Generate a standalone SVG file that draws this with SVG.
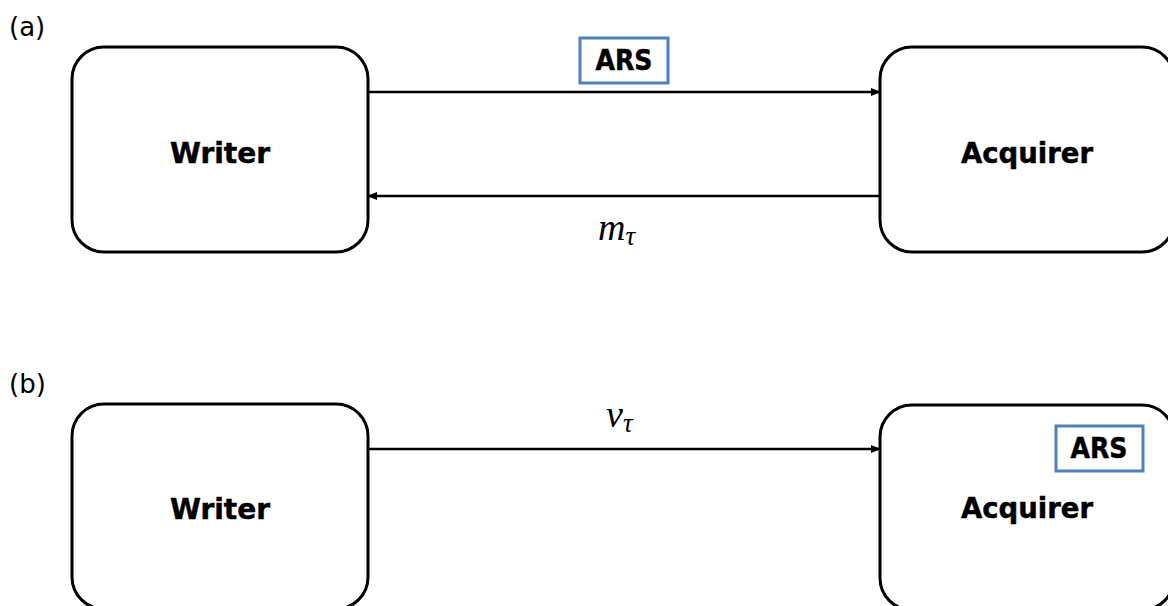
<svg xmlns="http://www.w3.org/2000/svg" width="1168" height="606" viewBox="0 0 1168 606">
<style>
.box{fill:#fff;stroke:#000;stroke-width:3}
.lbl{font-family:"DejaVu Sans",Verdana,sans-serif;font-weight:bold;font-size:29px;text-anchor:middle;fill:#000;stroke:#000;stroke-width:0.5}
.ars{fill:#fff;stroke:#4F81BD;stroke-width:3}
.panel{font-family:"DejaVu Sans",sans-serif;font-size:26px;fill:#000}
.math{font-family:"Liberation Serif","DejaVu Serif",serif;font-style:italic;fill:#000}
.conn{stroke:#000;stroke-width:2.5;fill:none}
</style>
<defs>
<marker id="ah" markerWidth="10" markerHeight="8" refX="9" refY="4" orient="auto" markerUnits="userSpaceOnUse">
<path d="M0,0 L10,4 L0,8 Z" fill="#000"/>
</marker>
</defs>
<text class="panel" x="9" y="36">(a)</text>
<text class="panel" x="9" y="393">(b)</text>
<g id="connectors">
<line class="conn" x1="368" y1="92" x2="880" y2="92" marker-end="url(#ah)"/>
<line class="conn" x1="880" y1="196" x2="368" y2="196" marker-end="url(#ah)"/>
<line class="conn" x1="368" y1="449" x2="880" y2="449" marker-end="url(#ah)"/>
</g>
<g id="writer-a">
<rect class="box" x="72" y="47" width="296" height="205" rx="32"/>
<text class="lbl" x="220" y="163" textLength="100" lengthAdjust="spacingAndGlyphs">Writer</text>
</g>
<g id="acquirer-a">
<rect class="box" x="880" y="47" width="294" height="205" rx="32"/>
<text class="lbl" x="1027" y="163" textLength="132" lengthAdjust="spacingAndGlyphs">Acquirer</text>
</g>
<g id="ars-a">
<rect class="ars" x="580" y="38" width="88" height="45"/>
<text class="lbl" x="624" y="70" font-size="25" textLength="57" lengthAdjust="spacingAndGlyphs">ARS</text>
</g>
<g id="label-m">
<text class="math" x="598" y="240" font-size="38">m<tspan font-size="27" dy="5">τ</tspan></text>
</g>
<g id="label-v">
<text class="math" x="606" y="427" font-size="38">v<tspan font-size="27" dy="5">τ</tspan></text>
</g>
<g id="writer-b">
<rect class="box" x="72" y="404" width="296" height="205" rx="32"/>
<text class="lbl" x="220" y="519" textLength="100" lengthAdjust="spacingAndGlyphs">Writer</text>
</g>
<g id="acquirer-b">
<rect class="box" x="880" y="405" width="294" height="205" rx="32"/>
<text class="lbl" x="1027" y="518" textLength="132" lengthAdjust="spacingAndGlyphs">Acquirer</text>
<rect class="ars" x="1056" y="426" width="87" height="45"/>
<text class="lbl" x="1099" y="458" font-size="25" textLength="57" lengthAdjust="spacingAndGlyphs">ARS</text>
</g>
</svg>
